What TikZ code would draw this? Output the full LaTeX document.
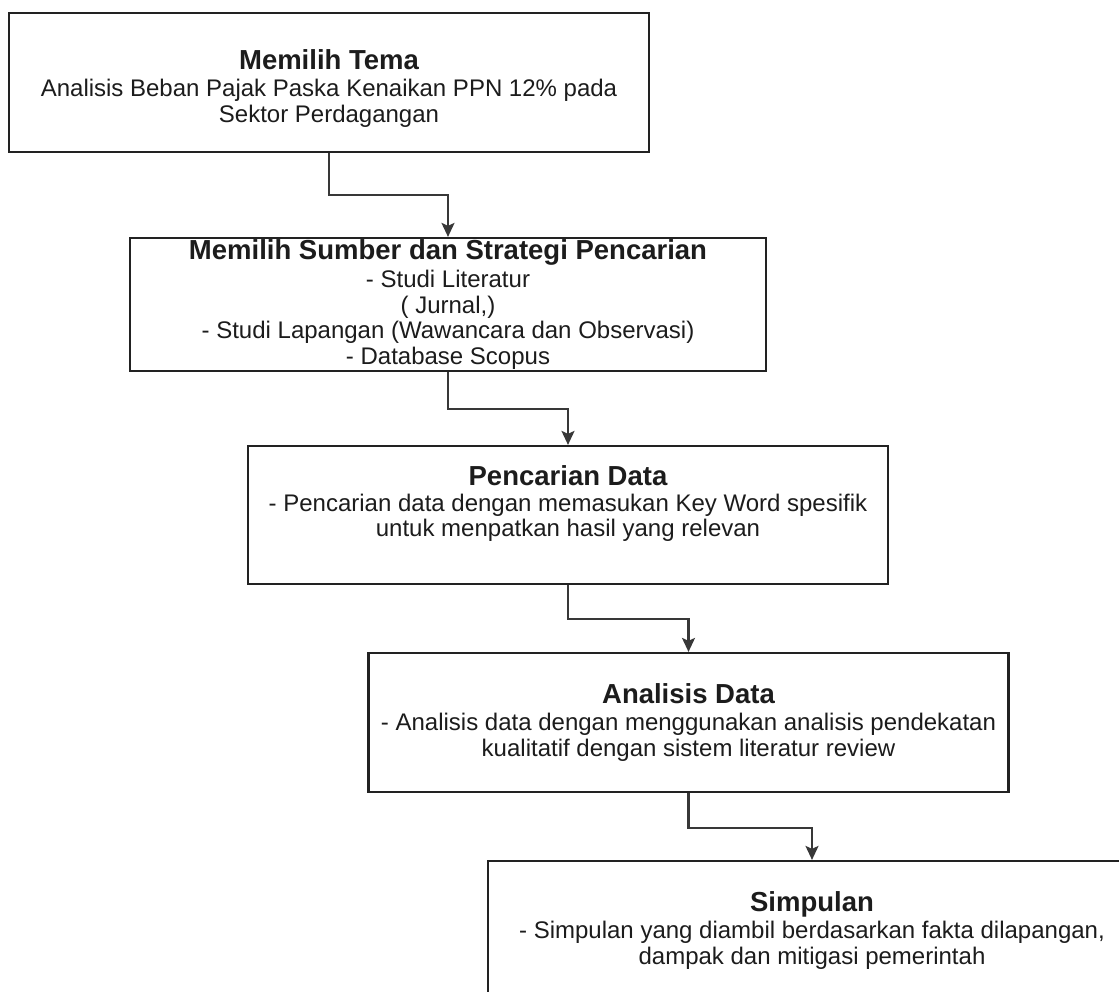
\documentclass[tikz,border=0pt]{standalone}
\usepackage{fontspec}
\setmainfont{Liberation Sans}
\usetikzlibrary{arrows.meta}
\definecolor{linec}{HTML}{222222}
\definecolor{conc}{HTML}{383838}
\definecolor{txtc}{HTML}{1c1c1c}
\tikzset{
  box/.style={draw=linec, line width=2.2pt, fill=white, align=center, text=txtc,
    font=\fontsize{24}{25.5}\selectfont, inner sep=0pt, minimum height=139pt},
  conn/.style={draw=conc, line width=2.2pt, -{Stealth[length=14pt,width=13pt,inset=3pt]}},
}
\newcommand{\boxtitle}[1]{{\fontsize{27.5}{28}\selectfont\bfseries #1}}
\begin{document}
\begin{tikzpicture}[x=1pt,y=-1pt]
\useasboundingbox[fill=white] (0,0) rectangle (1119,992);
\clip (0,0) rectangle (1119,992);
\node[box, minimum width=640pt] (b1) at (329,82.5)
  {\boxtitle{\rule{0pt}{31pt}Memilih Tema}\\[2pt]
   Analisis Beban Pajak Paska Kenaikan PPN 12\% pada\\
   Sektor Perdagangan};
\node[box, minimum width=636pt, minimum height=133pt] (b2) at (448,304.5)
  {\boxtitle{Memilih Sumber dan Strategi Pencarian}\\[3pt]
   - Studi Literatur\\
   ( Jurnal,)\\
   - Studi Lapangan (Wawancara dan Observasi)\\
   - Database Scopus};
\node[box, minimum width=640pt, minimum height=138pt] (b3) at (568,515)
  {\boxtitle{Pencarian Data}\\[0pt]
   - Pencarian data dengan memasukan Key Word spesifik\\
   untuk menpatkan hasil yang relevan\\[-6pt]
   \strut};
\node[box, minimum width=640pt] (b4) at (688.5,722.5)
  {\boxtitle{Analisis Data}\\[2pt]
   - Analisis data dengan menggunakan analisis pendekatan\\
   kualitatif dengan sistem literatur review};
\node[box, minimum width=648pt] (b5) at (812,930.5)
  {\boxtitle{Simpulan}\\[2pt]
   - Simpulan yang diambil berdasarkan fakta dilapangan,\\
   dampak dan mitigasi pemerintah};
\draw[conn] (b1.south) -- ++(0,42) -| (b2.north);
\draw[conn] (b2.south) -- ++(0,37) -| (b3.north);
\draw[conn] (b3.south) -- ++(0,34) -| (b4.north);
\draw[conn] (b4.south) -- ++(0,35) -| (b5.north);
\end{tikzpicture}
\end{document}
